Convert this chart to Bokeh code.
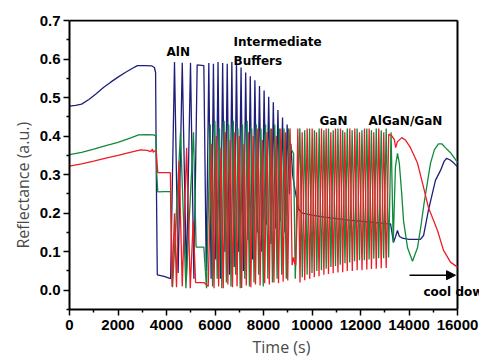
from bokeh.plotting import figure
from bokeh.models import Label, Arrow, NormalHead, FixedTicker, Title
from bokeh.embed import file_html
from bokeh.resources import INLINE

# ---------------- data ----------------
x_ticks = [0, 2000, 4000, 6000, 8000, 10000, 12000, 14000, 16000]
x_minor = [1000, 3000, 5000, 7000, 9000, 11000, 13000, 15000]
y_ticks = [0.0, 0.1, 0.2, 0.3, 0.4, 0.5, 0.6, 0.7]
y_tick_labels = ["0.0", "0.1", "0.2", "0.3", "0.4", "0.5", "0.6", "0.7"]
y_minor = [-0.05, 0.05, 0.15, 0.25, 0.35, 0.45, 0.55, 0.65]
x_lo, x_hi = 0, 16000
y_lo, y_hi = -0.05, 0.7

# blue trace
blue_pre_t = [0, 250, 500, 800, 1100, 1400, 1700, 2000, 2300, 2600, 2800, 3100, 3400, 3500, 3550, 3580, 3620, 3900, 4170]
blue_pre_v = [0.478, 0.480, 0.483, 0.495, 0.510, 0.526, 0.540, 0.553, 0.565, 0.576, 0.583, 0.583, 0.582, 0.578, 0.565, 0.300, 0.040, 0.036, 0.030]
blue_aln_t = [4330, 4480, 4650, 4820, 4990, 5130, 5265, 5540, 5640]
blue_aln_v = [0.592, 0.045, 0.590, 0.035, 0.590, 0.030, 0.585, 0.583, 0.050]
blue_buf_t = [5745, 5840, 5935, 6030, 6125, 6220, 6315, 6410, 6505, 6600, 6695, 6790, 6885, 6980,
              7075, 7170, 7265, 7360, 7455, 7550, 7645, 7740, 7835, 7930, 8025, 8120, 8215, 8310,
              8405, 8500, 8595, 8690, 8785, 8880, 8975]
blue_buf_v = [0.590, 0.030, 0.588, 0.080, 0.592, 0.030, 0.590, 0.100, 0.588, 0.040, 0.592, 0.060, 0.590, 0.100,
              0.578, 0.050, 0.565, 0.130, 0.555, 0.080, 0.545, 0.150, 0.530, 0.100, 0.518, 0.170, 0.502, 0.120,
              0.488, 0.160, 0.468, 0.180, 0.448, 0.150, 0.430]
blue_end_t = [9070, 9130, 9200, 9300, 9450, 9600, 10000, 10500, 11000, 11500, 12000, 12500, 13000, 13240,
              13360, 13450, 13525, 13600, 13730, 14000, 14470, 14600, 14800, 15090, 15300, 15450, 15550,
              15700, 15850, 16000]
blue_end_v = [0.250, 0.380, 0.300, 0.260, 0.210, 0.200, 0.195, 0.190, 0.186, 0.182, 0.179, 0.176, 0.173, 0.172,
              0.124, 0.140, 0.155, 0.140, 0.135, 0.132, 0.132, 0.142, 0.207, 0.285, 0.311, 0.335, 0.342,
              0.338, 0.330, 0.320]

# green trace
green_pre_t = [0, 500, 1000, 1500, 2000, 2500, 2850, 3200, 3470, 3560, 3600, 3640, 3900, 4165]
green_pre_v = [0.352, 0.358, 0.366, 0.375, 0.384, 0.395, 0.403, 0.404, 0.403, 0.400, 0.300, 0.255, 0.256, 0.256]
green_aln_t = [4250, 4577, 4800, 5113, 5220, 5540, 5650]
green_aln_v = [0.008, 0.410, 0.005, 0.410, 0.112, 0.112, 0.005]
green_buf_t = [5805, 5900, 5995, 6090, 6185, 6280, 6375, 6470, 6565, 6660, 6755, 6850, 6945, 7040,
               7135, 7230, 7325, 7420, 7515, 7610, 7705, 7800, 7895, 7990, 8085, 8180, 8275, 8370,
               8465, 8560, 8655, 8750, 8845, 8940, 9035]
green_buf_v = [0.430, 0.010, 0.440, 0.030, 0.420, 0.005, 0.440, 0.020, 0.430, 0.010, 0.440, 0.040, 0.420, 0.005,
               0.430, 0.030, 0.440, 0.010, 0.420, 0.020, 0.430, 0.040, 0.420, 0.010, 0.430, 0.030, 0.420, 0.020,
               0.430, 0.030, 0.420, 0.040, 0.420, 0.030, 0.420]
green_gan_t = [9100, 9240, 9310, 9500, 9600, 9700, 9800, 9900, 10000, 10100, 10200, 10295, 10390, 10490,
               10585, 10680, 10780, 10875, 10970, 11070, 11165, 11265, 11360, 11455, 11555, 11655, 11755,
               11860, 11960, 12060, 12160, 12260, 12355, 12450, 12550, 12650, 12750, 12855, 12955, 13060,
               13160, 13260, 13350]
green_gan_v = [0.370, 0.355, 0.030, 0.420, 0.034, 0.415, 0.040, 0.420, 0.045, 0.415, 0.050, 0.420, 0.052, 0.415,
               0.056, 0.420, 0.060, 0.415, 0.063, 0.420, 0.066, 0.415, 0.070, 0.420, 0.072, 0.415, 0.075,
               0.420, 0.078, 0.415, 0.078, 0.420, 0.080, 0.415, 0.082, 0.420, 0.083, 0.415, 0.083, 0.420,
               0.085, 0.410, 0.124]
green_end_t = [13440, 13525, 13600, 13700, 13775, 13940, 14144, 14350, 14500, 14620, 14887, 15050, 15216,
               15350, 15500, 15711, 16000]
green_end_v = [0.320, 0.355, 0.330, 0.250, 0.180, 0.110, 0.075, 0.110, 0.170, 0.225, 0.330, 0.365, 0.380,
               0.380, 0.370, 0.357, 0.332]

# red trace
red_pre_t = [0, 500, 1000, 1500, 2000, 2500, 2930, 3200, 3350, 3420, 3450, 3520, 3580, 3610, 3640, 4160]
red_pre_v = [0.322, 0.328, 0.335, 0.343, 0.350, 0.358, 0.364, 0.363, 0.360, 0.366, 0.358, 0.362, 0.360, 0.330, 0.305, 0.305]
red_aln_t = [4230, 4330, 4413, 4520, 4650, 4830, 4980, 5100, 5200, 5540]
red_aln_v = [0.010, 0.200, 0.008, 0.335, 0.010, 0.370, 0.005, 0.180, 0.020, 0.020]
red_buf_t = [5720, 5865, 5960, 6055, 6150, 6245, 6340, 6435, 6530, 6625, 6720, 6815, 6910, 7005, 7100,
             7195, 7290, 7385, 7480, 7575, 7670, 7765, 7860, 7955, 8050, 8145, 8240, 8335, 8430, 8525,
             8620, 8715, 8810, 8905, 9000, 9095]
red_buf_v = [0.010, 0.380, 0.005, 0.400, 0.010, 0.370, 0.005, 0.410, 0.015, 0.390, 0.008, 0.410, 0.010, 0.400,
             0.006, 0.380, 0.012, 0.410, 0.008, 0.400, 0.015, 0.420, 0.012, 0.390, 0.018, 0.410, 0.015, 0.420,
             0.020, 0.400, 0.018, 0.420, 0.022, 0.410, 0.025, 0.420]
red_gan_t = [9180, 9240, 9290, 9330, 9415, 9505, 9595, 9700, 9801, 9905, 10007, 10095, 10186, 10290, 10392,
             10490, 10584, 10680, 10776, 10872, 10969, 11070, 11175, 11265, 11353, 11455, 11559, 11662, 11766,
             11862, 11959, 12062, 12165, 12260, 12357, 12452, 12547, 12650, 12753, 12855, 12959, 13060, 13165]
red_gan_v = [0.065, 0.085, 0.070, 0.065, 0.420, 0.020, 0.410, 0.026, 0.420, 0.030, 0.420, 0.034, 0.410, 0.036,
             0.420, 0.040, 0.420, 0.042, 0.410, 0.044, 0.420, 0.046, 0.420, 0.047, 0.410, 0.050, 0.420, 0.050,
             0.420, 0.052, 0.410, 0.052, 0.420, 0.054, 0.420, 0.055, 0.410, 0.056, 0.420, 0.057, 0.410, 0.058, 0.405]
red_end_t = [13300, 13400, 13450, 13520, 13700, 13850, 14060, 14350, 14600, 14800, 15175, 15420, 15710, 16000]
red_end_v = [0.400, 0.390, 0.370, 0.385, 0.396, 0.390, 0.370, 0.330, 0.267, 0.215, 0.155, 0.104, 0.073, 0.060]

blue_t = blue_pre_t + blue_aln_t + blue_buf_t + blue_end_t
blue_v = blue_pre_v + blue_aln_v + blue_buf_v + blue_end_v
green_t = green_pre_t + green_aln_t + green_buf_t + green_gan_t + green_end_t
green_v = green_pre_v + green_aln_v + green_buf_v + green_gan_v + green_end_v
red_t = red_pre_t + red_aln_t + red_buf_t + red_gan_t + red_end_t
red_v = red_pre_v + red_aln_v + red_buf_v + red_gan_v + red_end_v

# ---------------- figure ----------------
# plot box spans 0..16000 (x 69..457 px); the frame is widened to the right edge so the
# "cool down" note can run past the box, as in the original
FRAME_L, FRAME_R, BOX_R = 69, 479, 457
x_view_hi = x_hi * (FRAME_R - FRAME_L) / (BOX_R - FRAME_L)
y_view_hi = y_hi + (y_hi - y_lo) / 289.0

p = figure(width=479, height=359, x_range=(x_lo, x_view_hi), y_range=(y_lo, y_view_hi),
           output_backend="svg", toolbar_location=None,
           min_border_left=69, min_border_right=0, min_border_top=19, min_border_bottom=50)
p.grid.visible = False
p.background_fill_color = "white"
p.border_fill_color = "white"
p.outline_line_color = None

# box: top and right edges
p.segment(x0=[x_lo, x_hi], y0=[y_hi, y_lo], x1=[x_hi, x_hi], y1=[y_hi, y_hi],
          line_color="black", line_width=2)

p.line(blue_t, blue_v, line_color="#1f1f7a", line_width=1.3)
p.line(green_t, green_v, line_color="#118a3c", line_width=1.3)
p.line(red_t, red_v, line_color="#ee1d24", line_width=1.3)

p.xaxis.ticker = FixedTicker(ticks=x_ticks, minor_ticks=x_minor)
p.yaxis.ticker = FixedTicker(ticks=y_ticks, minor_ticks=y_minor)
p.xaxis.bounds = (x_lo, x_hi)
p.yaxis.bounds = (y_lo, y_hi)
p.yaxis.major_label_overrides = {t: s for t, s in zip(y_ticks, y_tick_labels)}
for ax in (p.xaxis[0], p.yaxis[0]):
    ax.axis_line_width = 2
    ax.axis_line_color = "black"
    ax.major_tick_line_width = 1.5
    ax.minor_tick_line_width = 1.5
    ax.major_tick_out = 6
    ax.major_tick_in = 0
    ax.minor_tick_out = 3
    ax.minor_tick_in = 0
    ax.major_label_text_font = "Liberation Sans"
    ax.major_label_text_font_style = "bold"
    ax.major_label_text_font_size = "15px"
    ax.major_label_text_color = "black"
p.xaxis.major_label_standoff = 4
p.yaxis.major_label_standoff = 3

title_font = "Open Sans"
p.add_layout(Title(text="Reflectance (a.u.)", align="left", offset=61, standoff=6,
                   text_font=title_font, text_font_size="16px", text_font_style="normal",
                   text_color="#4a4a4a"), "left")
p.add_layout(Title(text="Time (s)", align="left", offset=183, standoff=3,
                   text_font=title_font, text_font_size="16px", text_font_style="normal",
                   text_color="#4a4a4a"), "below")

ann_font = "DejaVu Sans"
for (tx, ty, s) in [(4000, 0.617, "AlN"), (6763, 0.645, "Intermediate"), (6763, 0.595, "Buffers"),
                    (10309, 0.440, "GaN"), (12330, 0.440, "AlGaN/GaN"), (14598, -0.004, "cool down")]:
    p.add_layout(Label(x=tx, y=ty, text=s, text_align="left", text_baseline="alphabetic",
                       text_font=ann_font, text_font_style="bold", text_font_size="12px",
                       text_color="black"))

p.add_layout(Arrow(end=NormalHead(size=9, fill_color="black", line_color="black"),
                   x_start=14021, y_start=0.039, x_end=15918, y_end=0.039,
                   line_width=1.5, line_color="black"))

open("out.html", "w").write(file_html(p, INLINE))
